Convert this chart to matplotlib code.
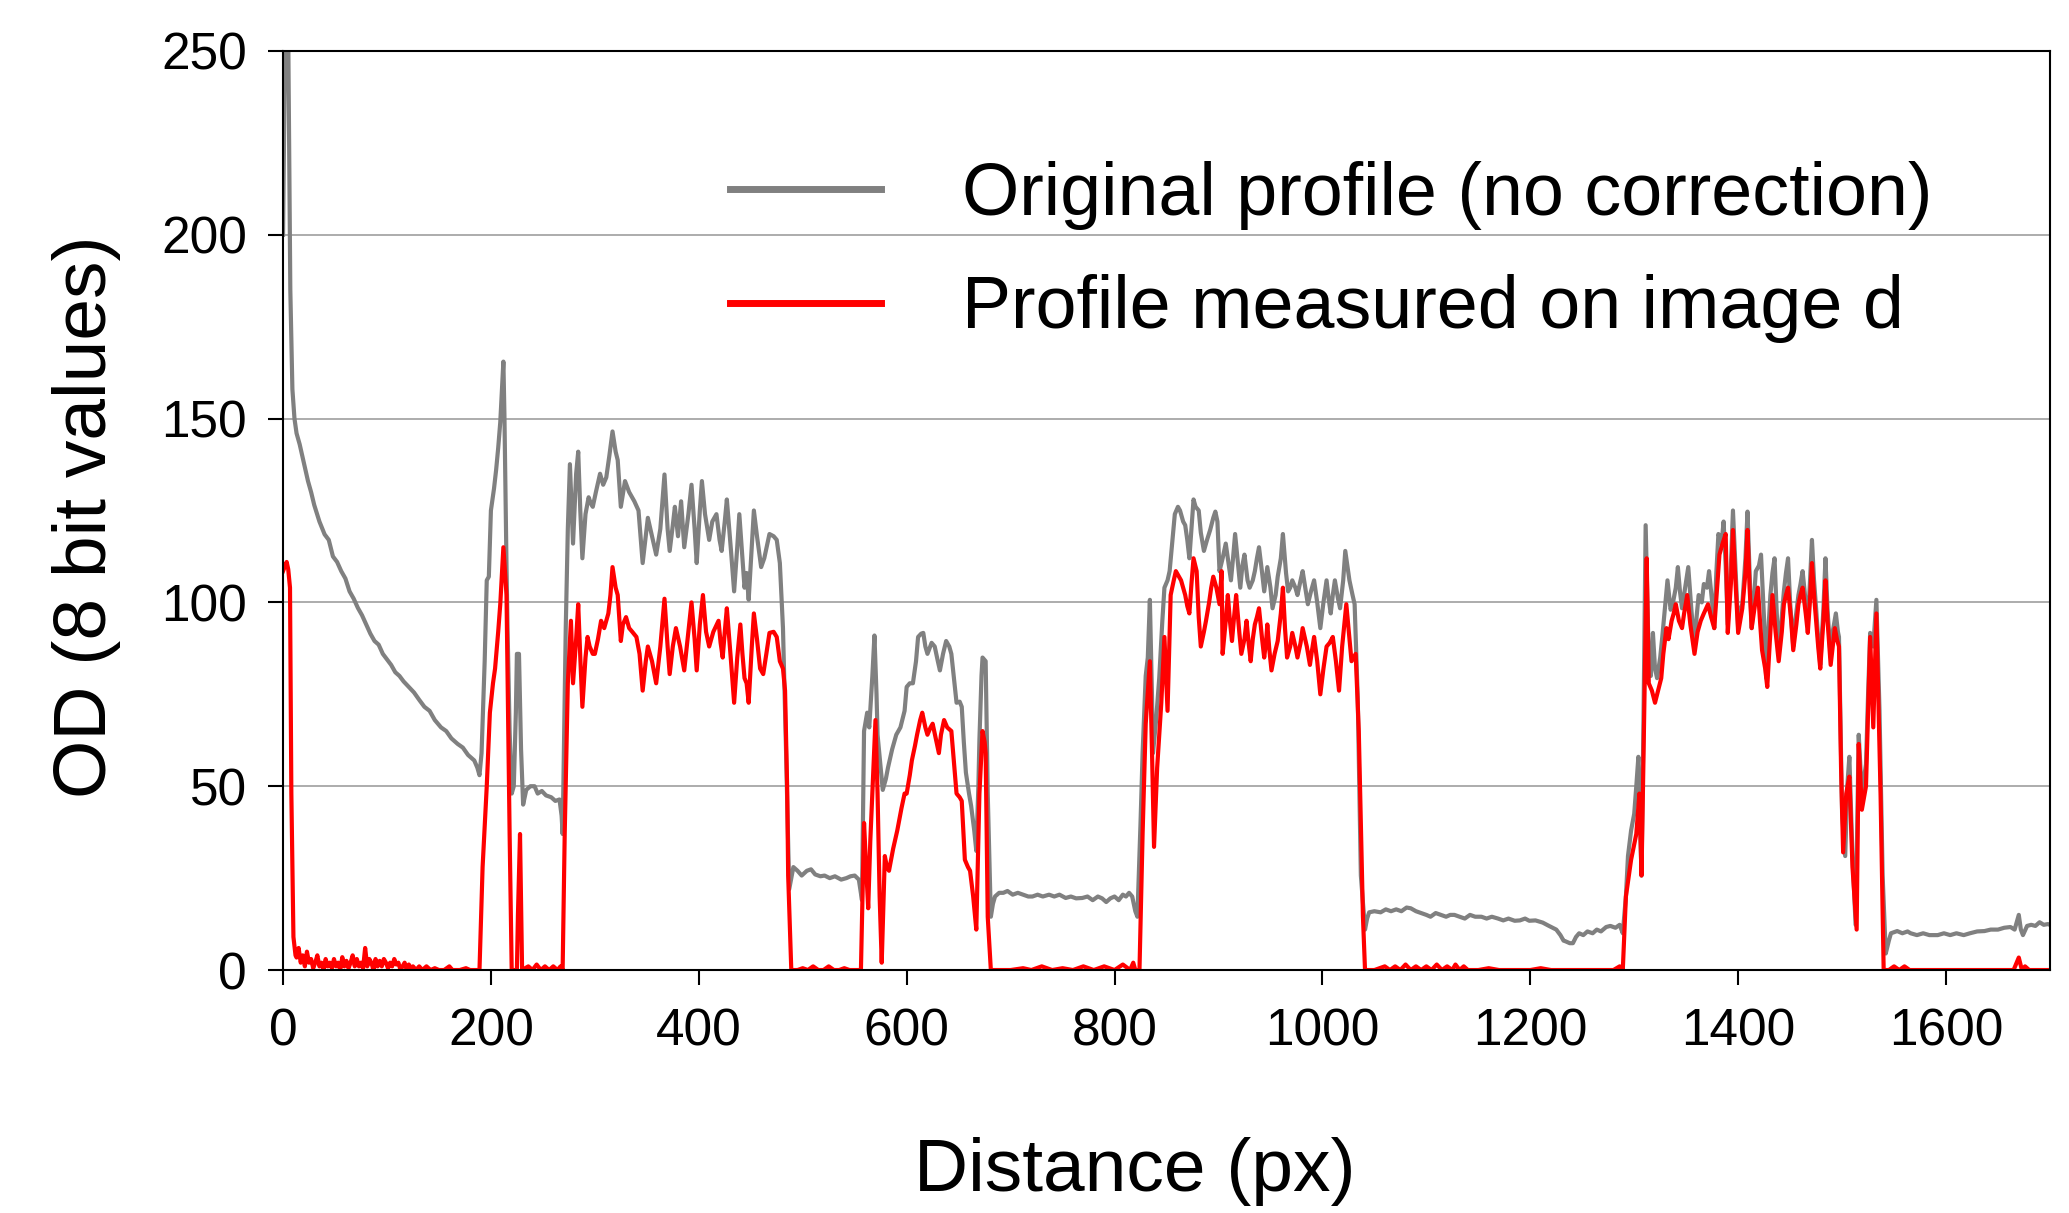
import matplotlib.pyplot as plt

plt.rcParams['font.family'] = ['Liberation Sans', 'DejaVu Sans']

# profile without correction (grey)
gray_x = [0, 2, 5, 7, 9, 11, 13, 16, 20, 24, 27, 30, 35, 40, 44, 48, 52, 56, 60, 64,
          68, 72, 76, 80, 84, 88, 92, 96, 100, 104, 108, 112, 116, 121, 126, 131, 136, 141, 146, 152,
          157, 162, 168, 173, 178, 184, 187, 189, 191, 194, 196, 198, 200, 203, 205, 207, 209, 211, 212, 213,
          215, 216, 218, 220, 222, 224, 225, 227, 229, 231, 234, 238, 242, 245, 249, 253, 258, 262, 266, 268,
          269, 272, 274, 276, 279, 282, 284, 286, 288, 291, 294, 296, 298, 301, 305, 308, 311, 314, 317, 320,
          322, 325, 329, 333, 338, 342, 346, 349, 351, 355, 359, 363, 367, 370, 372, 375, 377, 380, 383, 386,
          390, 393, 396, 398, 401, 403, 406, 410, 413, 417, 420, 422, 425, 427, 431, 434, 437, 439, 442, 444,
          446, 448, 451, 453, 456, 460, 463, 466, 468, 472, 475, 478, 481, 484, 487, 491, 495, 499, 504, 508,
          512, 517, 521, 526, 531, 537, 542, 546, 550, 554, 557, 559, 562, 564, 567, 569, 571, 572, 575, 577,
          580, 582, 586, 590, 594, 598, 600, 603, 606, 609, 611, 614, 616, 618, 620, 624, 627, 630, 632, 635,
          638, 641, 643, 646, 648, 651, 653, 655, 657, 660, 662, 665, 667, 669, 670, 672, 673, 676, 678, 681,
          683, 685, 689, 693, 697, 702, 707, 712, 717, 721, 726, 731, 737, 742, 747, 753, 758, 763, 769, 774,
          779, 784, 788, 792, 796, 800, 804, 808, 811, 814, 817, 820, 822, 825, 827, 830, 832, 834, 836, 837,
          840, 843, 846, 848, 851, 853, 856, 858, 861, 863, 866, 868, 870, 872, 874, 876, 878, 881, 883, 886,
          889, 892, 895, 897, 899, 901, 904, 907, 910, 912, 914, 916, 919, 921, 923, 925, 928, 930, 933, 935,
          937, 939, 942, 944, 947, 950, 952, 955, 957, 960, 962, 965, 967, 969, 971, 974, 976, 979, 981, 984,
          986, 989, 992, 995, 998, 1001, 1004, 1006, 1008, 1010, 1012, 1015, 1017, 1020, 1022, 1024, 1026, 1029, 1031, 1034,
          1037, 1041, 1043, 1045, 1050, 1056, 1061, 1066, 1071, 1076, 1081, 1085, 1090, 1095, 1100, 1104, 1109, 1114, 1119, 1123,
          1127, 1132, 1137, 1142, 1147, 1153, 1158, 1163, 1169, 1174, 1179, 1185, 1190, 1195, 1199, 1205, 1212, 1218, 1225, 1229,
          1232, 1234, 1238, 1241, 1244, 1247, 1251, 1255, 1260, 1264, 1268, 1273, 1277, 1282, 1286, 1289, 1292, 1294, 1297, 1300,
          1302, 1304, 1307, 1309, 1311, 1314, 1316, 1318, 1320, 1322, 1325, 1327, 1330, 1332, 1335, 1337, 1340, 1342, 1344, 1346,
          1349, 1352, 1355, 1358, 1360, 1362, 1365, 1367, 1370, 1372, 1375, 1377, 1379, 1381, 1384, 1386, 1388, 1390, 1393, 1395,
          1397, 1400, 1402, 1404, 1407, 1409, 1411, 1413, 1415, 1417, 1420, 1422, 1425, 1427, 1429, 1431, 1433, 1435, 1437, 1439,
          1442, 1444, 1446, 1448, 1450, 1453, 1455, 1458, 1460, 1462, 1465, 1467, 1469, 1471, 1473, 1475, 1477, 1479, 1482, 1484,
          1486, 1489, 1491, 1494, 1496, 1497, 1500, 1503, 1505, 1507, 1510, 1513, 1516, 1519, 1523, 1525, 1527, 1530, 1533, 1536,
          1539, 1542, 1545, 1547, 1553, 1558, 1563, 1566, 1572, 1578, 1584, 1592, 1598, 1604, 1610, 1617, 1623, 1630, 1637, 1643,
          1650, 1656, 1662, 1666, 1668, 1670, 1672, 1674, 1678, 1682, 1686, 1690, 1694, 1698, 1700]
gray_y = [200, 255, 255, 185, 158, 150, 146, 143, 138, 133, 130, 126.5, 122, 118.5, 117, 112.5, 111, 108.5, 106.5, 103,
          101, 98.5, 96.5, 94, 91.5, 89.5, 88.5, 86, 84.5, 83, 81, 80, 78.5, 77, 75.5, 73.5, 71.6, 70.5, 68, 66,
          65, 63, 61.5, 60.5, 58.5, 57, 55, 53, 59, 84, 106, 107, 125, 131, 136, 142, 149, 160, 165.5, 151,
          110, 93, 65, 48, 50, 70, 86, 86, 60, 45, 49, 50, 50, 48, 48.7, 47.5, 47, 46, 46.4, 42,
          37, 93, 120, 137.6, 116, 135, 141, 125, 112, 124, 128.6, 127, 126, 130, 135, 132, 134, 140, 146.5, 141,
          138.7, 126, 133, 130, 127.5, 125, 110.7, 118, 123, 118, 113, 120, 134.8, 120, 114, 121, 126, 118, 127.5, 115,
          124, 132, 120, 110.7, 125, 133, 124, 117, 122, 124, 117, 114, 122, 128, 114, 103, 115, 124, 112, 104,
          108, 100.7, 115, 125, 118, 109.6, 112, 116, 118.6, 118, 117, 110.7, 93, 59, 22, 28, 27, 25.7, 27, 27.4,
          26, 25.5, 25.7, 25, 25.5, 24.6, 25, 25.5, 25.7, 24.6, 19, 65, 70, 66, 80, 91, 75, 64, 55, 49,
          52, 55, 60, 64, 66, 70.5, 77, 78, 78, 84, 90.6, 91.5, 91.7, 88, 86, 89, 88, 84, 81.5, 86,
          89.5, 88, 86, 78, 72.7, 73, 71.6, 62, 53.7, 48, 44.7, 38, 32.4, 50, 62.6, 80, 85, 84, 48, 14.5,
          18, 20, 21, 21, 21.5, 20.5, 21, 20.5, 20, 20, 20.5, 20, 20.5, 20, 20.5, 19.6, 20, 19.5, 19.6, 20,
          19, 20, 19.5, 18.5, 19.5, 20, 19, 20.5, 20, 21, 20, 16, 14.5, 40, 59, 80, 85, 100.7, 75, 59,
          68, 79.4, 95, 104, 106, 108.5, 118, 124, 126, 125, 122, 121, 117, 112, 120, 128, 126, 125, 119, 114,
          117, 119.7, 123, 124.7, 122, 108.5, 112, 116, 110, 106, 112, 118.6, 110, 104, 110, 113, 106, 104, 106, 108.5,
          112, 115, 108, 103, 109.6, 104, 98.4, 102, 107, 112, 118.6, 108, 103, 104, 106, 104, 102, 106, 108.5, 103,
          99.5, 103, 106, 100, 93, 100, 106, 101, 97, 102, 106, 101, 98.4, 106, 114, 110, 106, 102, 99.5, 74,
          25.7, 11, 14, 15.7, 16, 15.7, 16.5, 16, 16.5, 16, 17, 16.8, 16, 15.5, 15, 14.5, 15.5, 15, 14.5, 15,
          15, 14.5, 14, 15, 14.5, 14.5, 14, 14.5, 14, 13.5, 14, 13.4, 13.5, 14, 13.4, 13.5, 12.9, 12, 11, 9.5,
          8, 7.8, 7.3, 7.3, 9, 10, 9.5, 10.5, 10, 11, 10.5, 11.7, 12, 11.5, 12.3, 10, 20, 31, 38, 42.5,
          50, 58, 25.7, 70, 121, 84, 80, 91.7, 82, 79.4, 85, 90.6, 100, 106, 98, 99.5, 104, 109.6, 103, 98.4,
          104, 109.6, 98, 88, 96, 102, 100, 105, 104, 108.5, 100, 93, 108, 118.6, 116, 122, 110, 94, 110, 125,
          112, 93, 98, 99.5, 112, 124.7, 108, 93, 100, 108.5, 110, 113, 95, 79.4, 92, 102, 108, 112, 98, 86,
          96, 103, 108, 112, 100, 88, 95, 102, 105, 108.5, 100, 94, 105, 117, 106, 98.4, 90, 83, 98, 112,
          98, 85, 92, 97, 92, 90.6, 42.5, 31, 50, 58, 31, 12.3, 64, 48, 56, 75, 91.7, 88, 100.7, 70.5,
          25.7, 4.5, 8, 10, 10.6, 10, 10.5, 10, 9.5, 10, 9.5, 9.5, 10, 9.5, 10, 9.5, 10, 10.5, 10.6, 11,
          11, 11.5, 11.7, 11, 13, 15, 11, 9.5, 12, 12.3, 12, 13, 12.3, 12.5, 12.3]

# profile measured on image d (red)
red_x = [0, 2, 3.5, 5, 6.7, 8, 10, 12, 13, 15, 17, 19, 21, 23, 25, 27, 29, 31, 33, 35,
         37, 39, 41, 43, 45, 47, 49, 51, 53, 55, 57, 59, 61, 63, 65, 67, 69, 71, 73, 75,
         77, 79, 81, 83, 85, 87, 89, 91, 93, 95, 97, 99, 101, 103, 105, 107, 109, 111, 113, 115,
         117, 119, 121, 123, 125, 128, 131, 134, 138, 142, 146, 150, 155, 160, 163, 170, 176, 180, 189, 192,
         196, 199, 202, 204, 207, 209, 212, 215, 218, 220, 225, 226, 228, 230, 236, 240, 244, 248, 252, 256,
         260, 264, 267, 269, 271, 274, 277, 279, 282, 284, 286, 288, 291, 293, 295, 298, 300, 303, 306, 309,
         313, 315, 317, 320, 322, 325, 327, 330, 333, 336, 340, 343, 346, 349, 351, 355, 359, 363, 367, 370,
         372, 375, 378, 382, 386, 390, 393, 396, 398, 401, 404, 407, 410, 414, 419, 421, 423, 425, 427, 431,
         434, 437, 440, 442, 444, 446, 448, 451, 453, 456, 459, 462, 465, 468, 472, 475, 478, 481, 483, 485,
         486, 489, 495, 500, 505, 510, 515, 520, 525, 530, 535, 540, 545, 551, 556, 559, 561, 563, 565, 567,
         570, 572, 574, 576, 579, 581, 583, 587, 591, 595, 598, 600, 603, 605, 608, 610, 613, 615, 618, 620,
         623, 625, 628, 631, 633, 636, 639, 643, 646, 648, 651, 653, 656, 659, 661, 664, 667, 669, 670, 673,
         675, 676, 678, 681, 690, 700, 712, 720, 730, 740, 750, 760, 770, 780, 790, 800, 808, 815, 818, 820,
         824, 827, 830, 834, 836, 838, 841, 845, 848, 851, 854, 857, 859, 862, 864, 866, 868, 870, 872, 874,
         876, 879, 881, 883, 886, 888, 891, 893, 895, 898, 901, 903, 904, 907, 909, 911, 913, 915, 917, 920,
         922, 925, 927, 929, 931, 933, 935, 937, 939, 942, 944, 946, 947, 949, 951, 954, 957, 960, 962, 964,
         966, 969, 971, 974, 976, 979, 981, 985, 988, 990, 992, 995, 998, 1001, 1004, 1007, 1010, 1013, 1016, 1019,
         1023, 1026, 1028, 1030, 1032, 1035, 1039, 1041, 1050, 1060, 1065, 1070, 1075, 1080, 1085, 1090, 1095, 1100, 1105, 1110,
         1115, 1120, 1125, 1128, 1132, 1136, 1140, 1150, 1160, 1170, 1180, 1190, 1200, 1210, 1220, 1240, 1260, 1280, 1286, 1289,
         1292, 1297, 1302, 1305, 1307, 1309, 1312, 1314, 1317, 1320, 1323, 1326, 1328, 1331, 1333, 1336, 1338, 1340, 1343, 1346,
         1348, 1351, 1354, 1358, 1361, 1364, 1367, 1371, 1374, 1377, 1380, 1382, 1385, 1388, 1390, 1393, 1395, 1397, 1400, 1402,
         1404, 1407, 1409, 1411, 1413, 1416, 1419, 1421, 1423, 1426, 1428, 1431, 1433, 1436, 1439, 1442, 1444, 1446, 1448, 1451,
         1453, 1456, 1458, 1460, 1462, 1465, 1467, 1469, 1471, 1473, 1475, 1477, 1479, 1482, 1484, 1486, 1489, 1491, 1493, 1495,
         1497, 1499, 1501, 1504, 1507, 1510, 1514, 1516, 1519, 1523, 1527, 1530, 1533, 1537, 1540, 1545, 1550, 1555, 1560, 1565,
         1575, 1590, 1610, 1630, 1650, 1665, 1670, 1673, 1676, 1680, 1700]
red_y = [108.5, 110, 111, 109, 104, 48, 9, 4, 3.4, 6, 2, 4, 1, 5, 2, 3, 0.5, 2, 4, 1,
         2, 0, 3, 1, 2, 0.5, 3, 1, 2, 0, 3.5, 1, 2.5, 0.5, 2, 4, 1, 3, 1, 2,
         0.5, 6, 1, 3, 2, 0, 3, 1, 2.5, 1, 3, 2, 0.5, 2, 1, 3, 1.5, 2, 0, 1,
         2, 0, 1.5, 0.5, 1, 0, 1, 0, 1, 0, 0.5, 0, 0, 1, 0, 0, 0.5, 0, 0, 28,
         50, 70, 78, 82, 92, 99.5, 115, 102, 37, 0, 0, 15, 37, 0, 1, 0, 1.5, 0, 1, 0,
         1, 0, 1, 0, 37, 78, 95, 78, 90, 99.5, 85, 71.6, 85, 90.6, 88, 86, 86, 90, 95, 93,
         97, 102, 109.6, 104, 102, 89.5, 94, 96, 93, 92, 90.6, 86, 76, 84, 88, 84, 78, 88, 101, 88,
         80.5, 88, 93, 88, 81.5, 92, 100, 90, 81.5, 94, 102, 92, 88, 92, 95, 89, 85, 92, 98.4, 84,
         72.7, 85, 94, 86, 79.4, 78, 72.7, 88, 97, 90, 82, 80.5, 86, 91.7, 92, 90.6, 84, 82, 76, 50,
         25.7, 0, 0, 0.5, 0, 1, 0, 0, 1, 0, 0, 0.5, 0, 0, 0, 40, 28, 16.8, 35, 48,
         68, 48, 20, 2, 31, 28, 27, 33, 38, 44, 48, 48, 53, 57, 61, 64, 68, 70, 66, 64,
         66, 67, 63, 59, 64, 68, 66, 65, 55, 48, 47, 46, 30, 28, 27, 20, 11, 35, 48, 65,
         62, 59, 14.5, 0, 0, 0, 0.5, 0, 1, 0, 0.5, 0, 1, 0, 1, 0, 1.5, 0, 2, 0,
         0, 37, 67, 84, 60, 33.5, 55, 72.7, 90.6, 70.5, 102, 106, 108.5, 107, 106, 104, 102, 99, 97, 105,
         112, 108.5, 96, 88, 92, 95, 100, 104, 107, 104, 99.5, 108.5, 86, 95, 102, 95, 89.5, 96, 102, 92,
         86, 90, 95, 89, 84, 90, 94, 96, 98.4, 90, 85, 90, 94, 87, 81.5, 86, 89.5, 97, 104, 93,
         85, 88, 91.7, 88, 85, 89, 93, 88, 83, 87, 90.6, 84, 75, 82, 88, 89, 90.6, 84, 76, 88,
         99.5, 90, 84, 85, 86, 65, 14.5, 0, 0, 1, 0, 1, 0, 1.5, 0, 1, 0, 1, 0, 1.5,
         0, 1, 0, 1.5, 0, 1, 0, 0, 0.5, 0, 0, 0, 0, 0.5, 0, 0, 0, 0, 1, 0,
         20, 30, 37, 48, 25.7, 59, 112, 78, 76, 72.7, 76, 79.4, 86, 93, 90, 95, 97, 99.5, 95, 93,
         97, 102, 94, 86, 92, 95, 97, 99.5, 96, 93, 105, 113, 116, 118.6, 91.7, 105, 119.7, 108, 91.7, 95,
         98.4, 108, 119.7, 104, 93, 99, 104, 95, 87, 82, 77, 92, 102, 92, 84, 92, 99.5, 102, 104, 95,
         87, 94, 99.5, 102, 104, 97, 91.7, 100, 110.7, 102, 95, 88, 82, 95, 106, 95, 83, 88, 93, 90,
         88, 55, 32, 48, 52.6, 28, 11, 61.5, 43.6, 50, 90.6, 66, 97, 48, 0, 0, 1, 0, 1, 0,
         0, 0, 0, 0, 0, 0, 3.4, 0, 1, 0, 0]

x_ticks = [0, 200, 400, 600, 800, 1000, 1200, 1400, 1600]
y_ticks = [0, 50, 100, 150, 200, 250]

fig = plt.figure(figsize=(20.69, 12.13), dpi=100)
ax = fig.add_axes([0.1368, 0.2003, 0.854, 0.7577])

ax.plot(gray_x, gray_y, color='#808080', lw=3.0, label='Original profile (no correction)')
ax.plot(red_x, red_y, color='#ff0000', lw=3.0, label='Profile measured on image d')

ax.set_xlim(0, 1700)
ax.set_ylim(0, 250)
ax.set_xticks(x_ticks)
ax.set_yticks(y_ticks)
ax.yaxis.grid(True, color='#a6a6a6', lw=1.3)
ax.set_axisbelow(True)
ax.tick_params(direction='out', length=11, width=1.5, labelsize=37)
ax.tick_params(axis='x', pad=16)
ax.tick_params(axis='y', pad=15)
for s in ax.spines.values():
    s.set_color('black')
    s.set_linewidth(1.5)

leg = ax.legend(loc='upper left', bbox_to_anchor=(0.253, 0.880), frameon=False, fontsize=53,
                handlelength=2.05, handletextpad=1.1, labelspacing=0.6, borderaxespad=0, borderpad=0)
for line in leg.get_lines():
    line.set_linewidth(5)

fig.text(0.0416, 0.574, 'OD (8 bit values)', rotation=90, ha='center', va='center', fontsize=54)
fig.text(0.5486, 0.034, 'Distance (px)', ha='center', va='center', fontsize=54)

fig.savefig('out.png', dpi=100)
